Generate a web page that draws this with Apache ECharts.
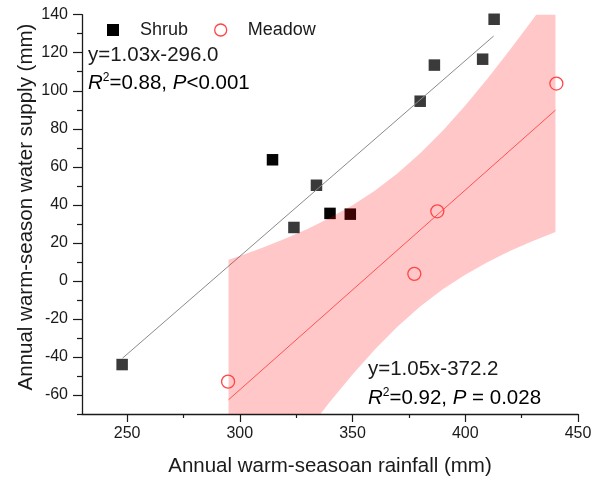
<!DOCTYPE html>
<html>
<head>
<meta charset="utf-8">
<script src="https://cdn.jsdelivr.net/npm/echarts@6/dist/echarts.min.js"></script>
<style>
  html, body { margin: 0; padding: 0; background: #fff; }
  #chart { width: 603px; height: 479px; }
</style>
</head>
<body>
<div id="chart"></div>
<script>
// Shrub plots: rainfall (mm) vs water supply (mm)
const shrubX = [247.8, 314.5, 324.0, 334.0, 340.0, 349.0, 380.0, 386.3, 407.7, 412.8];
const shrubY = [-44.0, 63.7, 28.1, 50.3, 35.5, 35.1, 94.5, 113.5, 116.6, 137.6];
// Meadow plots
const meadowX = [294.8, 377.4, 387.6, 440.4];
const meadowY = [-53.0, 3.7, 36.6, 103.8];

// Fitted lines (end points)
const shrubFitX = [248.0, 412.6];
const shrubFitY = [-40.6, 128.8];
const meadowFitX = [295.0, 440.0];
const meadowFitY = [-62.5, 89.8];

// Confidence band of the meadow fit
const bandX = [295, 300, 310, 320, 330, 340, 350, 360, 370, 380, 390, 400, 410, 420, 430, 440];
const bandUpper = [11.1, 13.1, 17.5, 22.2, 27.3, 33.2, 39.8, 47.6, 56.6, 67.1, 79.0, 92.3, 106.6, 121.8, 137.6, 153.9];
const bandLower = [-136.0, -127.5, -110.9, -94.6, -78.7, -63.6, -49.2, -36.0, -24.0, -13.5, -4.4, 3.3, 10.0, 15.8, 21.0, 25.7];

// Axis ticks
const xMajorTicks = [250, 300, 350, 400, 450];
const xMinorTicks = [275, 325, 375, 425];
const yMajorTicks = [-60, -40, -20, 0, 20, 40, 60, 80, 100, 120, 140];
const yMinorTicks = [-70, -50, -30, -10, 10, 30, 50, 70, 90, 110, 130];

// Equation labels
const shrubEq = 'y=1.03x-296.0';
const shrubStats = ['0.88', '<0.001'];
const meadowEq = 'y=1.05x-372.2';
const meadowStats = ['0.92', ' = 0.028'];

// Squares drawn in full black
const darkShrub = [1, 4, 5];

const FONT = '"Liberation Sans", Arial, Helvetica, sans-serif';
const AXIS_COLOR = '#1a1a1a';
const TEXT_COLOR = '#1a1a1a';
const SHRUB_GRAY = '#3a3a3a';
const MEADOW_RED = '#ff4545';

const pairs = (xs, ys) => xs.map((x, i) => [x, ys[i]]);

const eqRich = {
  it: { fontStyle: 'italic', fontSize: 20.5, fontFamily: FONT, color: TEXT_COLOR, lineHeight: 22 },
  sup: { fontSize: 12, fontFamily: FONT, color: TEXT_COLOR, verticalAlign: 'top', lineHeight: 22 },
  n: { fontSize: 20.5, fontFamily: FONT, color: TEXT_COLOR, lineHeight: 22 }
};

function statText(r2, p) {
  return '{it|R}{sup|2}{n|=' + r2 + ', }{it|P}{n|' + p + '}';
}

const baseX = {
  type: 'value', min: 230, max: 450, interval: 10, position: 'bottom',
  splitLine: { show: false }
};
const baseY = {
  type: 'value', min: -70, max: 140, interval: 10, position: 'left',
  splitLine: { show: false }
};

// Band polygon: upper edge left to right, lower edge back, clipped to the grid
function renderBand(params, api) {
  const pts = [];
  for (let i = 0; i < bandX.length; i++) pts.push(api.coord([bandX[i], bandUpper[i]]));
  for (let i = bandX.length - 1; i >= 0; i--) pts.push(api.coord([bandX[i], bandLower[i]]));
  const cs = params.coordSys;
  return {
    type: 'group',
    clipPath: { type: 'rect', shape: { x: cs.x, y: cs.y, width: cs.width, height: cs.height } },
    children: [{
      type: 'polygon',
      shape: { points: pts },
      style: { fill: 'rgba(255, 0, 0, 0.22)', stroke: 'none' }
    }]
  };
}

const option = {
  animation: false,
  backgroundColor: '#fff',
  grid: { left: 82, right: 25, top: 14.7, bottom: 65, containLabel: false },
  xAxis: [
    Object.assign({}, baseX, {
      axisLine: { show: true, onZero: false, lineStyle: { color: AXIS_COLOR, width: 1.3 } },
      axisTick: { show: true, length: 8, customValues: xMajorTicks, lineStyle: { color: AXIS_COLOR, width: 1.2 } },
      axisLabel: { show: true, customValues: xMajorTicks, margin: 12, fontSize: 16, fontFamily: FONT, color: TEXT_COLOR }
    }),
    Object.assign({}, baseX, {
      axisLine: { show: false, onZero: false },
      axisTick: { show: true, length: 4, customValues: xMinorTicks, lineStyle: { color: AXIS_COLOR, width: 1.2 } },
      axisLabel: { show: false }
    })
  ],
  yAxis: [
    Object.assign({}, baseY, {
      axisLine: { show: true, onZero: false, lineStyle: { color: AXIS_COLOR, width: 1.3 } },
      axisTick: { show: true, length: 9, customValues: yMajorTicks, lineStyle: { color: AXIS_COLOR, width: 1.2 } },
      axisLabel: { show: true, customValues: yMajorTicks, margin: 14, fontSize: 16, fontFamily: FONT, color: TEXT_COLOR }
    }),
    Object.assign({}, baseY, {
      axisLine: { show: false, onZero: false },
      axisTick: { show: true, length: 5, customValues: yMinorTicks, lineStyle: { color: AXIS_COLOR, width: 1.2 } },
      axisLabel: { show: false }
    })
  ],
  legend: {
    left: 102, top: 16,
    itemWidth: 12, itemHeight: 12, itemGap: 26,
    textStyle: { fontSize: 18, fontFamily: FONT, color: TEXT_COLOR, padding: [0, 0, 0, 16] },
    data: [
      { name: 'Shrub', icon: 'rect', itemStyle: { color: '#000', opacity: 1 } },
      { name: 'Meadow', icon: 'circle', itemStyle: { color: 'transparent', borderColor: MEADOW_RED, borderWidth: 1.3, opacity: 1 } }
    ]
  },
  series: [
    {
      name: 'Shrub', type: 'scatter', symbol: 'rect', symbolSize: 11.5,
      data: pairs(shrubX, shrubY).map((v, i) => ({
        value: v,
        itemStyle: darkShrub.indexOf(i) >= 0 ? { color: '#050505' } : undefined
      })),
      itemStyle: { color: SHRUB_GRAY, opacity: 1 },
      z: 2
    },
    {
      name: 'Shrub fit', type: 'line', data: pairs(shrubFitX, shrubFitY),
      symbol: 'none',
      lineStyle: { color: '#8a8a8a', width: 1 }, z: 3
    },
    {
      name: 'Meadow band', type: 'custom', data: [0],
      renderItem: renderBand, silent: true, z: 4
    },
    {
      name: 'Meadow fit', type: 'line', data: pairs(meadowFitX, meadowFitY),
      symbol: 'none', lineStyle: { color: '#ff5252', width: 1 }, z: 5
    },
    {
      name: 'Meadow', type: 'scatter', symbol: 'circle', symbolSize: 13,
      data: pairs(meadowX, meadowY),
      itemStyle: { color: 'transparent', borderColor: MEADOW_RED, borderWidth: 1.3, opacity: 1 },
      z: 6
    }
  ],
  graphic: [
    {
      type: 'text', left: 88, top: 45,
      style: { text: shrubEq, font: '20.5px ' + FONT, fill: TEXT_COLOR }
    },
    {
      type: 'text', left: 88, top: 72,
      style: { text: statText(shrubStats[0], shrubStats[1]), rich: eqRich }
    },
    {
      type: 'text', left: 368, top: 359,
      style: { text: meadowEq, font: '20.5px ' + FONT, fill: TEXT_COLOR }
    },
    {
      type: 'text', left: 368, top: 387,
      style: { text: statText(meadowStats[0], meadowStats[1]), rich: eqRich }
    },
    {
      type: 'text', x: 330, y: 466,
      style: { text: 'Annual warm-seasoan rainfall (mm)', font: '20.5px ' + FONT, fill: TEXT_COLOR, align: 'center', verticalAlign: 'middle' }
    },
    {
      type: 'text', x: 26, y: 207, rotation: Math.PI / 2,
      style: { text: 'Annual warm-season water supply (mm)', font: '20.5px ' + FONT, fill: TEXT_COLOR, align: 'center', verticalAlign: 'middle' }
    }
  ]
};

const chart = echarts.init(document.getElementById('chart'), null, { renderer: 'canvas' });
chart.setOption(option);
</script>
</body>
</html>
